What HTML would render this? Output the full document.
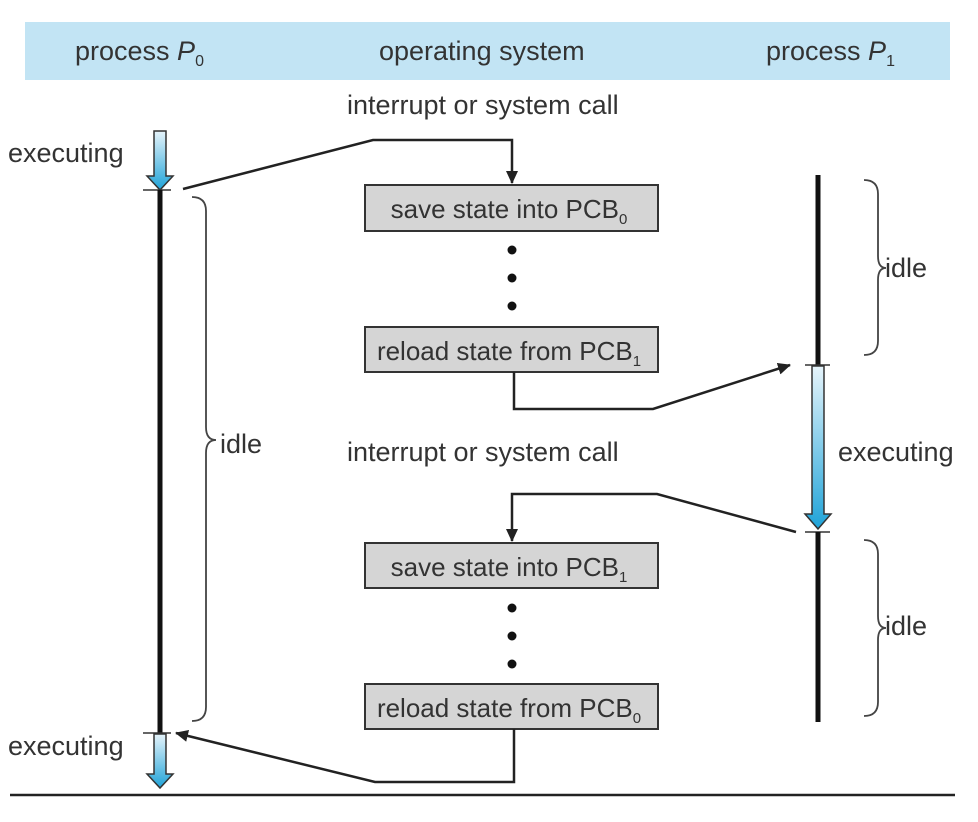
<!DOCTYPE html>
<html><head><meta charset="utf-8"><style>
html,body{margin:0;padding:0;background:#fff}
svg{display:block}
text{font-family:"Liberation Sans",sans-serif;fill:#333}
</style></head><body>
<svg width="978" height="822" viewBox="0 0 978 822" xmlns="http://www.w3.org/2000/svg">
<defs>
<linearGradient id="g" x1="0" y1="0" x2="0" y2="1"><stop offset="0" stop-color="#e6f4fb"/><stop offset="1" stop-color="#1fa3d8"/></linearGradient>
<marker id="a" markerWidth="13" markerHeight="12" refX="12" refY="6" orient="auto" markerUnits="userSpaceOnUse"><path d="M0,0 L13,6 L0,12 z" fill="#222"/></marker>
</defs>
<rect x="25" y="22" width="925" height="58" fill="#c2e4f4"/>
<text x="75" y="60" font-size="27">process <tspan font-style="italic">P</tspan><tspan font-size="16" dy="6">0</tspan></text>
<text x="379" y="60" font-size="27">operating system</text>
<text x="766" y="60" font-size="27">process <tspan font-style="italic">P</tspan><tspan font-size="16" dy="6">1</tspan></text>
<text x="347" y="114" font-size="27">interrupt or system call</text>
<text x="347" y="461" font-size="27">interrupt or system call</text>
<text x="8" y="162" font-size="27">executing</text>
<text x="8" y="755" font-size="27">executing</text>
<text x="838" y="461" font-size="27">executing</text>
<text x="220" y="453" font-size="27">idle</text>
<text x="885" y="277" font-size="27">idle</text>
<text x="885" y="635" font-size="27">idle</text>
<!-- P0 -->
<path d="M154,131 h12 v45 h7 l-13,14 l-13,-14 h7 z" fill="url(#g)" stroke="#333" stroke-width="1.5"/>
<line x1="143" y1="190" x2="171" y2="190" stroke="#333" stroke-width="1.5"/>
<line x1="160" y1="190" x2="160" y2="733" stroke="#111" stroke-width="5"/>
<line x1="143" y1="733" x2="171" y2="733" stroke="#333" stroke-width="1.5"/>
<path d="M154,734 h12 v40 h7 l-13,14 l-13,-14 h7 z" fill="url(#g)" stroke="#333" stroke-width="1.5"/>
<line x1="10" y1="795" x2="955" y2="795" stroke="#222" stroke-width="2.5"/>
<!-- P1 -->
<line x1="818" y1="175" x2="818" y2="365" stroke="#111" stroke-width="5"/>
<line x1="805" y1="365" x2="830" y2="365" stroke="#333" stroke-width="1.5"/>
<path d="M812,366 h12 v148 h7 l-13,15 l-13,-15 h7 z" fill="url(#g)" stroke="#333" stroke-width="1.5"/>
<line x1="805" y1="532" x2="830" y2="532" stroke="#333" stroke-width="1.5"/>
<line x1="818" y1="532" x2="818" y2="722" stroke="#111" stroke-width="5"/>
<!-- boxes -->
<g stroke="#333" stroke-width="2" fill="#d5d5d5">
<rect x="365" y="185" width="293" height="46"/>
<rect x="365" y="327" width="293" height="45"/>
<rect x="365" y="543" width="293" height="45"/>
<rect x="365" y="684" width="293" height="45"/>
</g>
<g font-size="26" text-anchor="middle">
<text x="509" y="218">save state into PCB<tspan font-size="15" dy="6">0</tspan></text>
<text x="509" y="360">reload state from PCB<tspan font-size="15" dy="6">1</tspan></text>
<text x="509" y="576">save state into PCB<tspan font-size="15" dy="6">1</tspan></text>
<text x="509" y="717">reload state from PCB<tspan font-size="15" dy="6">0</tspan></text>
</g>
<g fill="#111">
<circle cx="512" cy="250" r="4.5"/><circle cx="512" cy="278" r="4.5"/><circle cx="512" cy="306" r="4.5"/>
<circle cx="512" cy="608" r="4.5"/><circle cx="512" cy="636" r="4.5"/><circle cx="512" cy="664" r="4.5"/>
</g>
<!-- connectors -->
<g stroke="#222" stroke-width="2.5" fill="none">
<polyline points="183,189 373,140 512,140 512,183" marker-end="url(#a)"/>
<polyline points="514,372 514,409 653,409 790,365" marker-end="url(#a)"/>
<polyline points="796,532 657,494 512,494 512,541" marker-end="url(#a)"/>
<polyline points="514,729 514,782 375,782 176,733" marker-end="url(#a)"/>
</g>
<!-- braces -->
<g stroke="#444" stroke-width="1.8" fill="none">
<path d="M192,197 q14,0 14,14 v216 q0,13 10,13 q-10,0 -10,13 v254 q0,14 -14,14"/>
<path d="M864,180 q14,0 14,14 v62 q0,12 8,12 q-8,0 -8,12 v61 q0,14 -14,14"/>
<path d="M864,540 q14,0 14,14 v62 q0,12 8,12 q-8,0 -8,12 v62 q0,14 -14,14"/>
</g>
</svg>
</body></html>
